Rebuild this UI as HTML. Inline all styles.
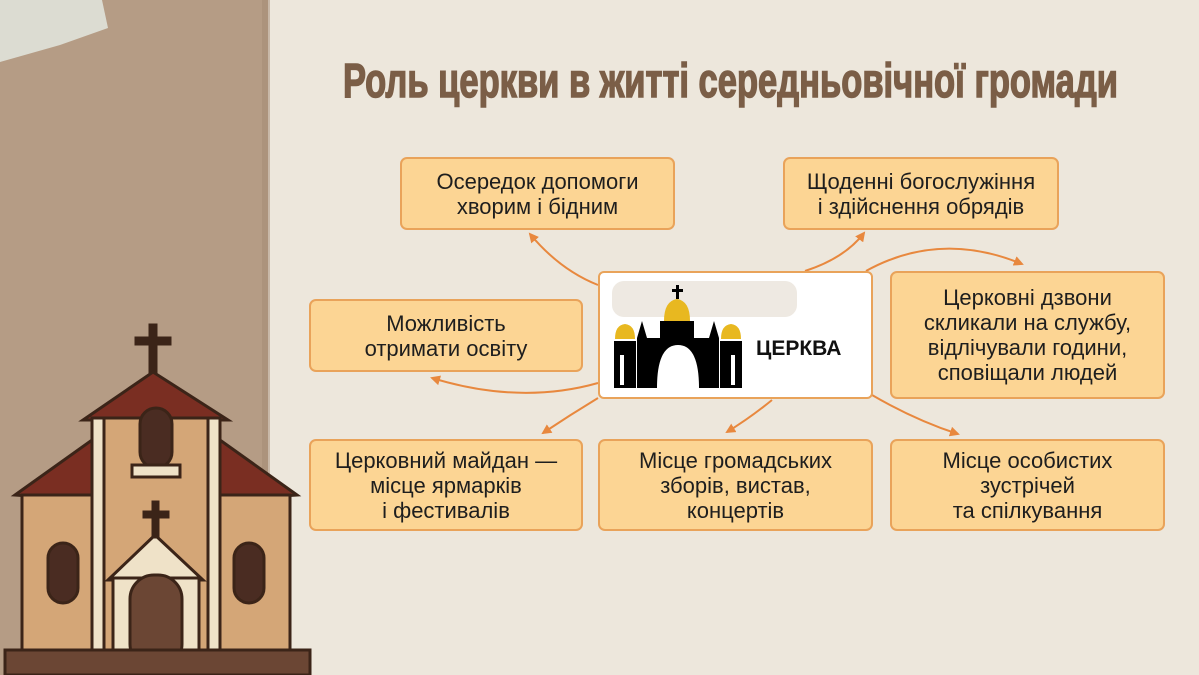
<!DOCTYPE html>
<html><head><meta charset="utf-8"><style>
body{margin:0;width:1199px;height:675px;overflow:hidden;background:#ede7dc;position:relative;font-family:"Liberation Sans Narrow","Liberation Sans",sans-serif}
.box{position:absolute;background:#fcd594;border:2px solid #e9a35a;border-radius:7px;box-sizing:border-box;display:flex;align-items:center;justify-content:center;text-align:center;font-size:22px;line-height:25px;color:#1e1e1e}
#title{position:absolute;left:343px;top:56px;font-family:"Liberation Sans",sans-serif;font-weight:bold;font-size:48px;line-height:52px;color:#7b5e47;-webkit-text-stroke:1.5px #7b5e47;white-space:nowrap;transform-origin:left top}
</style></head><body>
<svg width="1199" height="675" style="position:absolute;left:0;top:0">
<rect x="0" y="0" width="268" height="675" fill="#b59c85"/>
<rect x="262" y="0" width="8" height="675" fill="#a48a73" opacity="0.5"/>
<polygon points="0,0 102,0 108,28 60,45 0,62" fill="#dcdcd2"/>
<defs><marker id="a" markerWidth="10" markerHeight="10" refX="8" refY="5" orient="auto" markerUnits="userSpaceOnUse"><path d="M0,0 L10,5 L0,10 z" fill="#e8883e"/></marker></defs>
<g fill="none" stroke="#e8883e" stroke-width="2" marker-end="url(#a)">
<path d="M598,285 Q560,270 530,234"/>
<path d="M805,271 Q845,258 864,233"/>
<path d="M866,271 Q940,230 1022,264"/>
<path d="M598,383 Q520,405 432,378"/>
<path d="M598,398 Q570,415 543,433"/>
<path d="M772,400 Q750,418 727,432"/>
<path d="M872,395 Q915,420 958,434"/>
</g>
<g stroke="#3b2418" stroke-width="3">
<rect x="150" y="325" width="6" height="50" fill="#3b2418"/>
<rect x="136" y="338" width="34" height="6" fill="#3b2418"/>
<polygon points="83,420 153,372 228,420" fill="#7a2e22"/>
<rect x="92" y="418" width="128" height="250" fill="#d4a677"/>
<polygon points="15,495 92,440 92,500" fill="#7a2e22"/>
<polygon points="297,495 220,440 220,500" fill="#7a2e22"/>
<rect x="22" y="495" width="70" height="170" fill="#d4a677"/>
<rect x="220" y="495" width="70" height="170" fill="#d4a677"/>
<rect x="92" y="418" width="12" height="250" fill="#efe2c8"/>
<rect x="208" y="418" width="12" height="250" fill="#efe2c8"/>
<rect x="140" y="408" width="32" height="60" rx="16" fill="#4a2c22"/>
<rect x="132" y="465" width="48" height="12" fill="#efe2c8"/>
<rect x="48" y="543" width="30" height="60" rx="15" fill="#4a2c22"/>
<rect x="234" y="543" width="30" height="60" rx="15" fill="#4a2c22"/>
<polygon points="108,580 155,535 203,580" fill="#efe2c8"/>
<rect x="113" y="578" width="86" height="90" fill="#efe2c8"/>
<rect x="130" y="575" width="52" height="93" rx="24" fill="#6b4634"/>
<rect x="153" y="502" width="5" height="35" fill="#3b2418"/>
<rect x="144" y="512" width="24" height="5" fill="#3b2418"/>
<rect x="5" y="650" width="305" height="25" fill="#6b4634"/>
</g>
</svg>
<span id="title">Роль церкви в житті середньовічної громади</span>
<script>
var t=document.getElementById('title');var w=t.getBoundingClientRect().width;t.style.transform='scale('+(775/w)+',1)';
</script>
<div class="box" style="left:400px;top:157px;width:275px;height:73px">Осередок допомоги<br>хворим і бідним</div>
<div class="box" style="left:783px;top:157px;width:276px;height:73px">Щоденні богослужіння<br>і здійснення обрядів</div>
<div class="box" style="left:309px;top:299px;width:274px;height:73px">Можливість<br>отримати освіту</div>
<div class="box" style="left:890px;top:271px;width:275px;height:128px">Церковні дзвони<br>скликали на службу,<br>відлічували години,<br>сповіщали людей</div>
<div class="box" style="left:309px;top:439px;width:274px;height:92px">Церковний майдан —<br>місце ярмарків<br>і фестивалів</div>
<div class="box" style="left:598px;top:439px;width:275px;height:92px">Місце громадських<br>зборів, вистав,<br>концертів</div>
<div class="box" style="left:890px;top:439px;width:275px;height:92px">Місце особистих<br>зустрічей<br>та спілкування</div>
<div style="position:absolute;left:598px;top:271px;width:275px;height:128px;box-sizing:border-box;background:#fff;border:2px solid #e9a35a;border-radius:6px">
<div style="position:absolute;left:12px;top:8px;width:185px;height:36px;background:#eee9e2;border-radius:12px"></div>
<svg width="140" height="110" style="position:absolute;left:12px;top:10px">
<rect x="64" y="2" width="3" height="14" fill="#000"/><rect x="60" y="6" width="11" height="3" fill="#000"/>
<path d="M52,38 Q52,18 65,16 Q78,18 78,38 z" fill="#e8b820"/>
<path d="M3,56 Q3,42 13,41 Q23,42 23,56 z" fill="#e8b820"/>
<path d="M109,56 Q109,42 119,41 Q129,42 129,56 z" fill="#e8b820"/>
<path d="M2,58 H24 V105 H2z M108,58 H130 V105 H108z" fill="#000"/>
<path d="M25,105 V55 L30,38 L35,55 H48 V38 H82 V55 H97 L102,38 L107,55 V105 H87 Q87,62 66,62 Q45,62 45,105z" fill="#000"/>
<rect x="8" y="72" width="4" height="30" fill="#fff"/><rect x="119" y="72" width="4" height="30" fill="#fff"/>
</svg>
<div style="position:absolute;left:156px;top:64px;font-family:'Liberation Sans',sans-serif;font-weight:bold;font-size:21px;color:#111">ЦЕРКВА</div>
</div>
</body></html>
